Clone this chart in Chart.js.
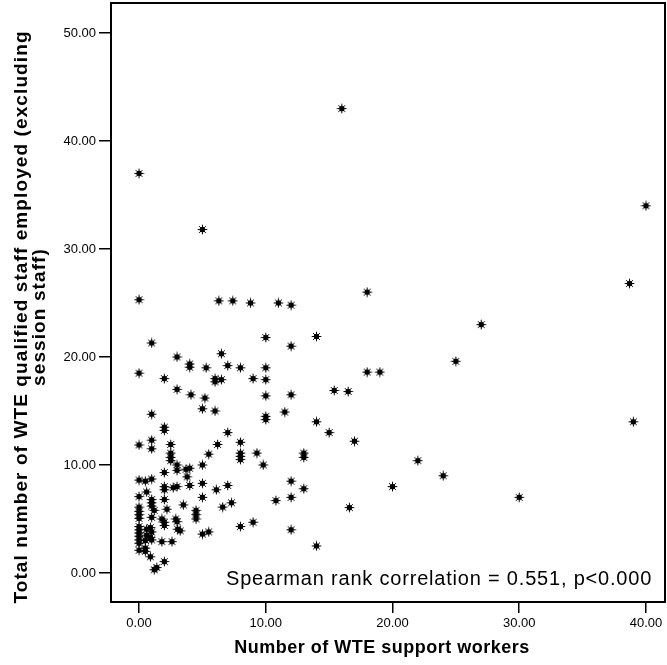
<!DOCTYPE html>
<html>
<head>
<meta charset="utf-8">
<script src="https://cdn.jsdelivr.net/npm/chart.js@4"></script>
<style>
  html, body { margin: 0; padding: 0; background: #fff; }
  #wrap { width: 667px; height: 665px; }
</style>
</head>
<body>
<div id="wrap"><canvas id="chart" width="667" height="665"></canvas></div>
<script>
// WTE support workers (x) against qualified staff employed (y), one entry per unit
const supportWorkers = [
  0, 16.0, 5.0, 40.0, 38.7, 27.0, 39.0, 30.0, 18.0, 14.0,
  25.0, 18.0, 19.0, 15.4, 16.5, 14.0, 15.0, 17.0, 13.0, 13.0,
  22.0, 24.0, 13.0, 20.0, 16.6, 14.0,
  0, 6.3, 7.4, 8.8, 11.0, 12.0, 1.0, 10.0, 12.0, 3.0,
  4.0, 4.0, 6.5, 5.3, 7.0, 8.0, 10.0, 0, 2.0, 6.0,
  6.0, 6.5, 9.0, 10.0, 3.0, 4.1, 5.2, 10.0, 12.0,
  5.0, 6.0, 1.0, 10.0, 10.0, 11.5, 2.0, 2.0, 7.0, 0,
  1.0, 1.0, 2.5, 6.2, 8.0, 8.0, 8.0, 8.0, 9.3, 9.8,
  5.5, 2.5, 2.5, 2.5, 3.0, 3.0, 5.0, 3.7, 4.0, 3.8,
  2.0, 12.0, 0, 0.5, 1.0, 2.0, 2.0, 2.7, 3.0, 4.0,
  5.0, 6.1, 7.0, 0.6, 0, 1.0, 1.0, 1.0, 2.0, 5.0,
  3.5, 1.2, 2.2, 4.5, 4.5, 4.5, 6.6, 7.3, 10.8, 12.0,
  0, 0, 0, 0, 1.0, 1.8, 2.0, 2.0, 2.9, 3.0,
  3.05, 3.25, 5.0, 5.5, 8.0, 9.0, 12.0, 0, 0, 0,
  0, 0, 0, 0.6, 0.9, 1.0, 0.6, 0.9, 1.0, 0.5,
  1.8, 2.6, 0, 0.5, 0.5, 0.9, 2.0, 1.2, 1.4
];
const qualifiedStaff = [
  37.0, 43.0, 31.8, 34.0, 26.8, 23.0, 14.0, 7.0, 26.0, 21.9,
  19.6, 18.6, 18.6, 16.9, 16.8, 14.0, 13.0, 12.2, 11.1, 10.7,
  10.4, 9.0, 7.8, 8.0, 6.05, 2.5,
  25.3, 25.2, 25.2, 25.0, 25.0, 24.8, 21.3, 21.8, 21.0, 20.0,
  19.35, 19.05, 20.3, 19.0, 19.2, 19.0, 19.0, 18.5, 18.0, 18.0,
  17.7, 17.9, 18.0, 17.9, 17.0, 16.5, 16.2, 16.4, 16.5,
  15.2, 15.0, 14.7, 14.5, 14.2, 14.9, 13.5, 13.2, 13.0, 11.85,
  12.3, 11.5, 11.9, 11.9, 12.1, 11.1, 10.8, 10.5, 11.1, 10.0,
  11.0, 11.1, 10.7, 10.4, 10.0, 9.5, 10.0, 9.6, 9.7, 8.9,
  9.3, 8.5, 8.6, 8.5, 8.7, 8.0, 7.7, 7.9, 8.0, 8.1,
  8.3, 7.7, 8.1, 7.5, 7.07, 6.8, 6.5, 6.2, 6.8, 7.0,
  6.3, 5.8, 5.9, 5.8, 5.4, 5.0, 6.1, 6.5, 6.7, 7.0,
  6.1, 5.7, 5.4, 5.05, 5.15, 5.0, 4.7, 4.4, 5.0, 4.75,
  4.05, 3.9, 3.6, 3.8, 4.3, 4.7, 4.0, 4.3, 4.0, 3.7,
  3.4, 3.06, 2.75, 4.05, 4.2, 3.8, 3.5, 3.3, 3.06, 3.0,
  2.9, 2.9, 2.1, 2.3, 2.0, 1.5, 1.05, 0.3, 0.5
];

const xTicks = [0, 10, 20, 30, 40];
const yTicks = [0, 10, 20, 30, 40, 50];

const xTitle = "Number of WTE support workers";
const yTitle = ["Total number of WTE qualified staff employed (excluding", "session staff)"];
const note = "Spearman rank correlation = 0.551, p<0.000";

const FONT = "'Liberation Sans', Arial, Helvetica, sans-serif";

// small asterisk marker: eight rays round a filled centre
function makeStar() {
  const c = document.createElement("canvas");
  c.width = 11;
  c.height = 11;
  const g = c.getContext("2d");
  g.translate(5.5, 5.5);
  g.strokeStyle = "#000";
  g.lineWidth = 1;
  for (let i = 0; i < 8; i++) {
    const a = (i * Math.PI) / 4;
    g.beginPath();
    g.moveTo(0, 0);
    g.lineTo(Math.cos(a) * 4.8, Math.sin(a) * 4.8);
    g.stroke();
  }
  g.fillStyle = "#000";
  g.beginPath();
  g.arc(0, 0, 2.7, 0, Math.PI * 2);
  g.fill();
  return c;
}

// frame, axis titles and the correlation note
const decorations = {
  id: "decorations",
  afterDraw(chart) {
    const { ctx, chartArea } = chart;
    ctx.save();
    ctx.strokeStyle = "#000";
    ctx.lineWidth = 2;
    ctx.strokeRect(chartArea.left, chartArea.top, chartArea.right - chartArea.left, chartArea.bottom - chartArea.top);

    ctx.fillStyle = "#000";
    ctx.font = "20px " + FONT;
    ctx.letterSpacing = "0.8px";
    ctx.textAlign = "left";
    ctx.textBaseline = "alphabetic";
    ctx.fillText(note, 226, 585);

    ctx.font = "bold 18px " + FONT;
    ctx.letterSpacing = "0.5px";
    ctx.textAlign = "center";
    ctx.textBaseline = "middle";
    ctx.fillText(xTitle, 382, 648);

    ctx.font = "bold 19px " + FONT;
    ctx.letterSpacing = "1.1px";
    ctx.translate(0, 317);
    ctx.rotate(-Math.PI / 2);
    ctx.fillText(yTitle[0], 0, 22);
    ctx.fillText(yTitle[1], 0, 40);
    ctx.restore();
  }
};

const points = supportWorkers.map((x, i) => ({ x: x, y: qualifiedStaff[i] }));

const axisTicks = {
  color: "#000",
  font: { family: FONT, size: 13 },
  callback: (v) => Number(v).toFixed(2)
};

// fixed axis box sizes so the plot frame sits at the same place every time
function fixBox(scale, size) {
  if (scale.isHorizontal()) scale.height = size;
  else scale.width = size;
  scale.paddingLeft = 0;
  scale.paddingRight = 0;
  scale.paddingTop = 0;
  scale.paddingBottom = 0;
}

new Chart(document.getElementById("chart").getContext("2d"), {
  type: "scatter",
  data: {
    datasets: [{
      data: points,
      pointStyle: makeStar(),
      pointRadius: 5,
      pointHoverRadius: 5
    }]
  },
  options: {
    responsive: false,
    animation: false,
    devicePixelRatio: 1,
    layout: { autoPadding: false, padding: { top: 3, right: 2, left: 0, bottom: 0 } },
    plugins: { legend: { display: false }, tooltip: { enabled: false } },
    scales: {
      x: {
        type: "linear",
        min: -2.21,
        max: 41.5,
        afterBuildTicks: (scale) => { scale.ticks = xTicks.map((v) => ({ value: v })); },
        afterFit: (scale) => fixBox(scale, 63),
        border: { display: false },
        grid: { drawOnChartArea: false, tickLength: 11, color: "#000", lineWidth: 1.5 },
        ticks: { ...axisTicks, padding: 3, maxRotation: 0 }
      },
      y: {
        type: "linear",
        min: -2.69,
        max: 52.78,
        afterBuildTicks: (scale) => { scale.ticks = yTicks.map((v) => ({ value: v })); },
        afterFit: (scale) => fixBox(scale, 111),
        border: { display: false },
        grid: { drawOnChartArea: false, tickLength: 12, color: "#000", lineWidth: 1.5 },
        ticks: { ...axisTicks, padding: 3 }
      }
    }
  },
  plugins: [decorations]
});
</script>
</body>
</html>
